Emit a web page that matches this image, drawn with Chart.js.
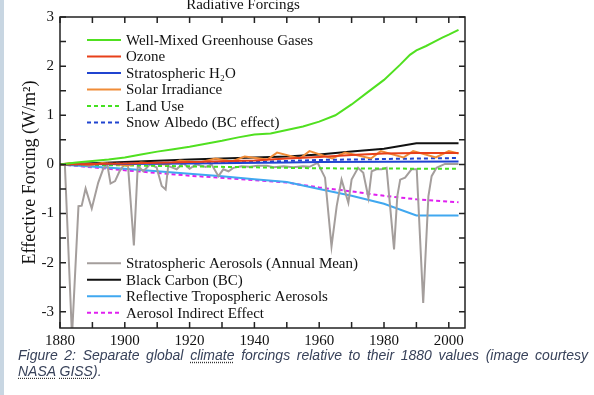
<!DOCTYPE html>
<html>
<head>
<meta charset="utf-8">
<script src="https://cdn.jsdelivr.net/npm/chart.js@4"></script>
<style>
  html, body { margin: 0; padding: 0; background: #fff; }
  body { width: 594px; height: 395px; position: relative; overflow: hidden; }
  #strip { position: absolute; left: 0; top: 0; width: 4px; height: 395px; background: #c8d6e2; }
  #chart { position: absolute; left: 0; top: 0; }
  #caption { position: absolute; left: 18px; top: 347px; width: 570px;
    font: italic 14px "Liberation Sans", Arial, sans-serif; color: #38425a; line-height: 16px; }
  #caption .l1 { text-align: justify; text-align-last: justify; white-space: nowrap; }
  #caption .u { text-decoration: underline dotted #333; text-underline-offset: 2px; }
</style>
</head>
<body>
<div id="strip"></div>
<canvas id="chart" width="594" height="348"></canvas>
<div id="caption">
  <div class="l1">Figure 2: Separate global <span class="u">climate</span> forcings relative to their 1880 values (image courtesy</div>
  <div><span class="u">NASA</span> <span class="u">GISS</span>).</div>
</div>
<script>
const xTickLabels = [1880, 1900, 1920, 1940, 1960, 1980, 2000];
const xMinorTicks = [1880, 1890, 1900, 1910, 1920, 1930, 1940, 1950, 1960, 1970, 1980, 1990, 2000];
const yTickLabels = [-3, -2, -1, 0, 1, 2, 3];
const yMinorTicks = [-3, -2.5, -2, -1.5, -1, -0.5, 0, 0.5, 1, 1.5, 2, 2.5, 3];

const ghgYears = [1880, 1885, 1890, 1895, 1900, 1905, 1910, 1915, 1920, 1925, 1930, 1935, 1940, 1945, 1950, 1955, 1960, 1965, 1970, 1975, 1980, 1985, 1988, 1990, 1993, 1995, 1998, 2000, 2003];
const ghgValues = [0, 0.04, 0.07, 0.1, 0.14, 0.2, 0.26, 0.31, 0.36, 0.42, 0.48, 0.55, 0.61, 0.63, 0.7, 0.77, 0.87, 1.0, 1.22, 1.47, 1.72, 2.03, 2.23, 2.32, 2.41, 2.48, 2.58, 2.64, 2.74];

const ozoneYears = [1880, 1900, 1920, 1940, 1950, 1960, 1970, 1980, 1990, 2003];
const ozoneValues = [0, 0.02, 0.05, 0.08, 0.12, 0.15, 0.19, 0.22, 0.23, 0.23];

const h2oYears = [1880, 1920, 1950, 1960, 2003];
const h2oValues = [0, 0.02, 0.04, 0.05, 0.06];

const solarYears = [1880, 1883, 1889, 1893, 1901, 1905, 1913, 1917, 1923, 1928, 1933, 1937, 1944, 1947, 1954, 1957, 1964, 1968, 1976, 1979, 1986, 1989, 1996, 2000, 2003];
const solarValues = [0, 0.03, -0.02, 0.03, -0.02, 0.04, 0.0, 0.08, 0.04, 0.12, 0.06, 0.16, 0.1, 0.24, 0.12, 0.27, 0.12, 0.24, 0.12, 0.27, 0.14, 0.27, 0.14, 0.27, 0.22];

const landYears = [1880, 1900, 1920, 1940, 1960, 2003];
const landValues = [0, -0.02, -0.04, -0.06, -0.08, -0.09];

const snowYears = [1880, 1900, 1920, 1940, 1950, 1960, 1980, 2003];
const snowValues = [0, 0.02, 0.04, 0.05, 0.07, 0.09, 0.11, 0.13];

const stratYears = [1880, 1881.5, 1883.7, 1885.7, 1886.7, 1887.9, 1889.8, 1891.8, 1893.4, 1894.6, 1895.6, 1897, 1898.3, 1899.8, 1901, 1902.8, 1904, 1905.7, 1907.8, 1909.8, 1911.4, 1912.6, 1913.4, 1916, 1918, 1920, 1922, 1925, 1926.8, 1928.9, 1930.4, 1932, 1933.5, 1936, 1938.6, 1941, 1943.8, 1946, 1949, 1952, 1955, 1957, 1959.5, 1961.8, 1963.8, 1965.4, 1966.9, 1969, 1970, 1972, 1973.6, 1975.2, 1976.2, 1977.7, 1979.3, 1980.8, 1983.1, 1984.1, 1985, 1986.5, 1988.5, 1990.1, 1992.1, 1993.7, 1994.7, 1996.2, 1998.8, 2003];
const stratValues = [0, 0, -3.5, -0.85, -0.84, -0.49, -0.9, -0.37, -0.08, 0, -0.39, -0.34, -0.15, 0, -0.03, -1.65, -0.03, -0.14, 0, -0.06, -0.44, -0.51, -0.03, -0.1, 0.03, -0.09, 0, -0.05, 0, -0.24, -0.1, -0.14, -0.07, -0.04, -0.05, -0.03, -0.03, -0.06, -0.04, -0.06, -0.04, -0.05, 0.03, -0.27, -1.67, -0.85, -0.31, -0.78, -0.31, -0.07, -0.17, -0.68, -0.14, -0.1, -0.1, -0.07, -1.73, -0.65, -0.31, -0.27, -0.1, -0.1, -2.82, -0.65, -0.24, -0.07, 0.01, 0.01];

const bcYears = [1880, 1900, 1920, 1940, 1950, 1960, 1970, 1980, 1990, 2003];
const bcValues = [0, 0.05, 0.1, 0.14, 0.16, 0.2, 0.26, 0.32, 0.43, 0.43];

const tropYears = [1880, 1900, 1920, 1930, 1940, 1950, 1960, 1970, 1980, 1990, 2003];
const tropValues = [0, -0.09, -0.19, -0.24, -0.3, -0.36, -0.5, -0.64, -0.8, -1.04, -1.04];

const indirectYears = [1880, 1900, 1920, 1940, 1950, 1960, 1970, 1980, 1990, 2003];
const indirectValues = [0, -0.12, -0.23, -0.32, -0.37, -0.47, -0.55, -0.64, -0.71, -0.77];

const serif = '"Liberation Serif", "Times New Roman", serif';

function pts(xs, ys) { return xs.map((x, i) => ({ x: x, y: ys[i] })); }

function series(label, xs, ys, color, dash, group) {
  return {
    label: label, data: pts(xs, ys), borderColor: color, backgroundColor: color,
    borderWidth: 2, borderDash: dash || [], pointRadius: 0, tension: 0, legendGroup: group
  };
}

const datasets = [
  series('Well-Mixed Greenhouse Gases', ghgYears, ghgValues, '#50e020', null, 0),
  series('Ozone', ozoneYears, ozoneValues, '#e8401a', null, 0),
  series('Stratospheric H\u2082O', h2oYears, h2oValues, '#2044d0', null, 0),
  series('Solar Irradiance', solarYears, solarValues, '#f08c38', null, 0),
  series('Land Use', landYears, landValues, '#44e020', [4, 3], 0),
  series('Snow Albedo (BC effect)', snowYears, snowValues, '#2044d0', [4, 3], 0),
  series('Stratospheric Aerosols (Annual Mean)', stratYears, stratValues, '#a49e9c', null, 1),
  series('Black Carbon (BC)', bcYears, bcValues, '#111111', null, 1),
  series('Reflective Tropospheric Aerosols', tropYears, tropValues, '#40a8f0', null, 1),
  series('Aerosol Indirect Effect', indirectYears, indirectValues, '#e020f0', [4, 3], 1)
];

// frame, inward ticks, title and the two legend boxes
const decor = {
  id: 'decor',
  afterDraw(chart) {
    const ctx = chart.ctx;
    const a = chart.chartArea;
    const xs = chart.scales.x, ys = chart.scales.y;
    ctx.save();
    ctx.strokeStyle = '#222';
    ctx.lineWidth = 1.5;
    ctx.strokeRect(a.left, a.top, a.right - a.left, a.bottom - a.top);
    ctx.beginPath();
    xMinorTicks.forEach(v => {
      const px = xs.getPixelForValue(v);
      ctx.moveTo(px, a.bottom); ctx.lineTo(px, a.bottom - 6);
      ctx.moveTo(px, a.top); ctx.lineTo(px, a.top + 6);
    });
    yMinorTicks.forEach(v => {
      const py = ys.getPixelForValue(v);
      ctx.moveTo(a.left, py); ctx.lineTo(a.left + 6, py);
      ctx.moveTo(a.right, py); ctx.lineTo(a.right - 6, py);
    });
    ctx.stroke();

    ctx.fillStyle = '#111';
    ctx.font = '15px ' + serif;
    ctx.textAlign = 'center';
    ctx.textBaseline = 'alphabetic';
    ctx.fillText('Radiative Forcings', 243, 8.5);

    const starts = [40, 263.3];
    const counts = [0, 0];
    ctx.textAlign = 'left';
    ctx.textBaseline = 'middle';
    chart.data.datasets.forEach(ds => {
      const g = ds.legendGroup;
      const y = starts[g] + counts[g] * 16.5;
      counts[g]++;
      ctx.beginPath();
      ctx.strokeStyle = ds.borderColor;
      ctx.lineWidth = 2;
      ctx.setLineDash(ds.borderDash);
      ctx.moveTo(87, y); ctx.lineTo(121, y);
      ctx.stroke();
      ctx.setLineDash([]);
      ctx.fillText(ds.label, 126, y + 1);
    });
    ctx.restore();
  }
};

new Chart(document.getElementById('chart'), {
  type: 'line',
  data: { datasets: datasets },
  plugins: [decor],
  options: {
    responsive: false,
    animation: false,
    layout: { padding: { top: 17, right: 129, left: 0, bottom: 0 } },
    plugins: { legend: { display: false }, tooltip: { enabled: false }, title: { display: false } },
    scales: {
      x: {
        type: 'linear', min: 1880, max: 2005,
        grid: { display: false, drawTicks: false },
        border: { display: false },
        afterBuildTicks: s => { s.ticks = xTickLabels.map(v => ({ value: v })); },
        afterFit: s => { s.height = 20; },
        ticks: { padding: 4, color: '#111', font: { family: serif, size: 15 }, maxRotation: 0, autoSkip: false, callback: v => String(v) }
      },
      y: {
        type: 'linear', min: -3.33, max: 3,
        grid: { display: false, drawTicks: false },
        border: { display: false },
        afterBuildTicks: s => { s.ticks = yTickLabels.map(v => ({ value: v })); },
        afterFit: s => { s.width = 60; },
        ticks: { padding: 6, color: '#111', font: { family: serif, size: 15 }, autoSkip: false, callback: v => String(v) },
        title: { display: true, text: 'Effective Forcing (W/m\u00b2)', color: '#111', font: { family: serif, size: 18 }, padding: { top: 19, bottom: 0 } }
      }
    }
  }
});
</script>
</body>
</html>
